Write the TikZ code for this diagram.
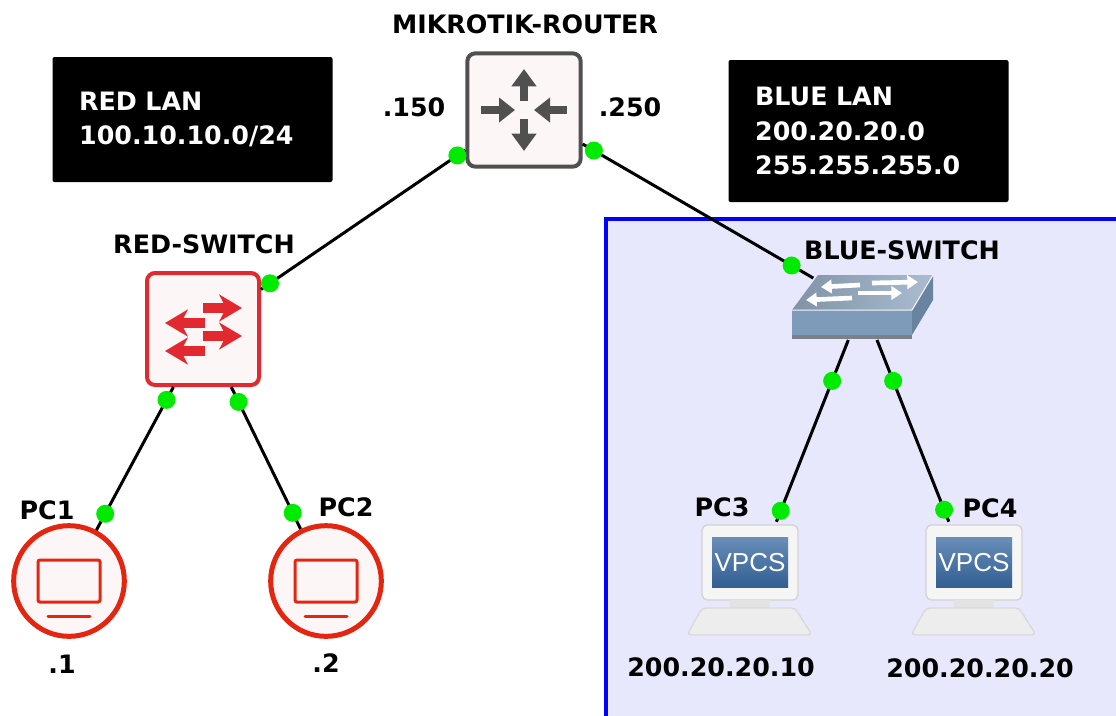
\documentclass[tikz,border=0pt]{standalone}
\usepackage{fontspec}
\setmainfont{DejaVu Sans}
\newfontfamily\screenfont{Liberation Sans}
\usetikzlibrary{arrows.meta}

\definecolor{portgreen}{RGB}{0,235,0}
\definecolor{routergray}{RGB}{80,80,80}
\definecolor{iconfill}{RGB}{253,246,246}
\definecolor{swred}{RGB}{226,41,48}
\definecolor{pcred}{RGB}{228,38,16}
\definecolor{lanfill}{RGB}{232,232,252}
\definecolor{lanblue}{RGB}{0,0,255}
\definecolor{swtop}{RGB}{150,172,196}
\definecolor{swfront}{RGB}{126,156,186}
\definecolor{swside}{RGB}{104,132,160}
\definecolor{screenblue}{RGB}{55,105,162}

\begin{document}
\begin{tikzpicture}[x=0.75pt,y=-0.75pt,
    link/.style={line width=2.25pt},
    port/.style={circle,fill=portgreen,inner sep=0pt,minimum size=13.5pt},
    lbl/.style={font=\fontsize{19}{22}\selectfont\bfseries},
    note/.style={fill=black,text=white,rounded corners=1.5pt,align=left,
      inner xsep=20pt,text width=170pt,minimum height=93.75pt,
      font=\fontsize{19}{26}\selectfont\bfseries},
    router/.style={draw=routergray,fill=iconfill,line width=3pt,
      rounded corners=6pt,minimum size=85pt},
    redswitch/.style={draw=swred,fill=iconfill,line width=3pt,
      rounded corners=6pt,minimum size=84pt},
    redpc/.style={circle,draw=pcred,fill=iconfill,line width=3.75pt,minimum size=83pt},
    vpcs/.style={minimum width=97pt,minimum height=88.5pt,inner sep=0pt}]

  \useasboundingbox (0,0) rectangle (1116,715);
  \clip (0,0) rectangle (1116,715);

  % blue lan area
  \draw[lanblue,line width=3pt,fill=lanfill] (606,219) rectangle (1140,740);

  % notes
  \node[note] (rednote) at (192.5,119.5) {RED LAN\\100.10.10.0/24};
  \node[note,minimum height=106.5pt] (bluenote) at (868.5,131) {BLUE LAN\\200.20.20.0\\255.255.255.0};

  % devices
  \node[router] (router) at (524,110) {};
  \node[redswitch] (rsw) at (203,329) {};
  \node[minimum width=107pt,minimum height=49pt,inner sep=0pt] (bsw) at (863,307) {};
  \node[redpc] (pc1) at (69,581) {};
  \node[redpc] (pc2) at (326,581) {};
  \node[vpcs] (pc3) at (750,581) {};
  \node[vpcs] (pc4) at (974,581) {};

  % router arrows
  \begin{scope}[shift={(router)},routergray,line width=6pt]
    \draw[-{Triangle[length=13pt,width=18pt]}] (0,-9) -- (0,-41);
    \draw[-{Triangle[length=13pt,width=18pt]}] (0,9) -- (0,41);
    \draw[-{Triangle[length=12pt,width=18pt]}] (-43,0) -- (-9,0);
    \draw[-{Triangle[length=12pt,width=18pt]}] (43,0) -- (10,0);
  \end{scope}

  % red switch arrows
  \begin{scope}[shift={(rsw)},swred,line width=7pt,
      -{Stealth[length=17pt,width=20pt,inset=5pt]}]
    \draw (0,-21) -- (39,-21);
    \draw (0,7) -- (39,7);
    \draw (2,-6) -- (-38,-6);
    \draw (2,22) -- (-38,22);
  \end{scope}

  % pc monitors
  \foreach \n in {pc1,pc2}{
    \begin{scope}[shift={(\n)},pcred,line width=2.25pt]
      \draw[rounded corners=1.5pt] (-31,-21) rectangle (31,21);
      \draw[line cap=round] (-21,35) -- (21,35);
    \end{scope}
  }

  % blue switch
  \begin{scope}[shift={(bsw)}]
    \fill[gray!75!swside] (-71,28) rectangle (49,32);
    \fill[swfront] (-71,3) rectangle (49,28);
    \fill[swside] (49,3) -- (70,-32) -- (70,-7) -- (49,28) -- cycle;
    \shade[left color=swtop!85!black,right color=swtop!80!white]
      (-45,-32) -- (70,-32) -- (49,3) -- (-71,3) -- cycle;
    \draw[white!90!swtop,line width=0.75pt] (-71,3) -- (49,3) -- (70,-32);
    \begin{scope}[white,line width=3.5pt,-{Triangle[length=8pt,width=10pt]}]
      \draw (9,-24) -- (55,-25);
      \draw (-3,-22) -- (-42,-20);
      \draw (-5,-14) -- (39,-14);
      \draw (-11,-9) -- (-57,-7);
    \end{scope}
  \end{scope}

  % vpcs hosts
  \foreach \n in {pc3,pc4}{
    \begin{scope}[shift={(\n)}]
      \filldraw[fill=gray!8,draw=gray!35,line width=1pt,rounded corners=4pt]
        (-48,-56) rectangle (48,19);
      \shade[top color=screenblue!75!white,bottom color=screenblue!90!black]
        (-38,-44) rectangle (38,6);
      \node[text=white,font=\screenfont\fontsize{19.5}{20}\selectfont] at (0,-18) {VPCS};
      \fill[gray!22] (-20,19) rectangle (20,29);
      \filldraw[fill=gray!14,draw=gray!30,line width=1pt,rounded corners=3pt]
        (-48,27) -- (45,27) -- (62,54) -- (-63,54) -- cycle;
    \end{scope}
  }

  % links
  \draw[link] (router) -- node[port,pos=.039]{} node[port,pos=.956]{} (rsw);
  \draw[link,shorten >=-6pt] (router) -- node[port,pos=.05]{} node[port,pos=.934]{} (bsw);
  \draw[link] (rsw.-117) -- node[port,pos=.09]{} node[port,pos=.886]{} (pc1);
  \draw[link] (rsw.-64) -- node[port,pos=.105]{} node[port,pos=.886]{} (pc2);
  \draw[link] (bsw.-114) -- node[port,pos=.225]{} node[port,pos=.94]{} (pc3.66);
  \draw[link] (bsw.-67) -- node[port,pos=.225]{} node[port,pos=.934]{} (pc4.113);

  % labels
  \node[lbl] (routerlbl) at (525,24) {MIKROTIK-ROUTER};
  \node[lbl] (ifleft) at (414,107) {.150};
  \node[lbl] (ifright) at (630,107) {.250};
  \node[lbl] (rswlbl) at (204,244) {RED-SWITCH};
  \node[lbl] (bswlbl) at (902,250) {BLUE-SWITCH};
  \node[lbl] (pc1lbl) at (47,510) {PC1};
  \node[lbl] (pc2lbl) at (346,507) {PC2};
  \node[lbl] (pc3lbl) at (722,507) {PC3};
  \node[lbl] (pc4lbl) at (990,508) {PC4};
  \node[lbl] (pc1ip) at (62,664) {.1};
  \node[lbl] (pc2ip) at (326,663) {.2};
  \node[lbl] (pc3ip) at (721,667) {200.20.20.10};
  \node[lbl] (pc4ip) at (980,668) {200.20.20.20};
\end{tikzpicture}
\end{document}
